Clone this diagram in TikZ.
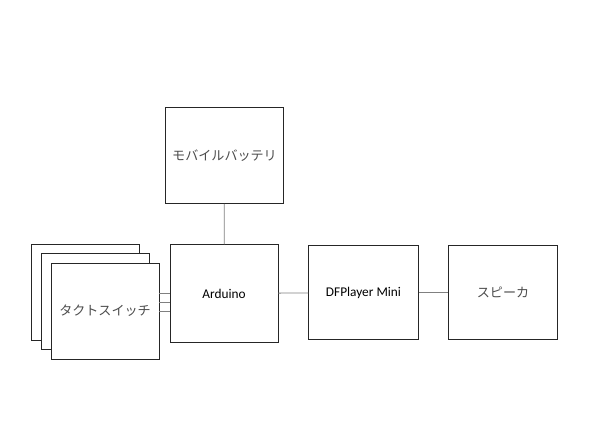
\documentclass[tikz,border=0pt]{standalone}
\usepackage{fontspec}
\setmainfont{Carlito}
\newfontfamily\jpfont{Noto Sans CJK JP}
\tikzset{
  blk/.style={draw=black!85,fill=white,line width=0.7pt,font=\fontsize{10}{12}\selectfont},
  jp/.style={blk,text=black!70,font=\jpfont\fontsize{9.8}{12}\selectfont},
  wire/.style={draw=black!50,line width=0.6pt}
}
\begin{document}
\begin{tikzpicture}[x=0.75pt,y=-0.75pt]
                \useasboundingbox (0,0) rectangle (596,447);
                % power
                \node[jp,minimum width=89pt,minimum height=72pt] (bat) at (224.5,155.5) {モバイルバッテリ};
                % main chain
                \node[blk,minimum width=81pt,minimum height=73pt] (ard) at (224,293.5) {Arduino};
                \node[blk,minimum width=82pt,minimum height=71pt] (dfp) at (363.5,292.5) {DFPlayer Mini};
                \node[jp,minimum width=82pt,minimum height=71pt] (spk) at (503,292.5) {スピーカ};
                % switches
                \node[blk,minimum width=81pt,minimum height=72pt] (sw1) at (85,292) {};
                \node[blk,minimum width=81pt,minimum height=72pt] (sw2) at (95,301.5) {};
                \node[jp,minimum width=81pt,minimum height=72pt] (sw3) at (105,311) {タクトスイッチ};
                \draw[wire] (bat) -- (ard);
                \draw[wire] (ard) -- (dfp);
                \draw[wire] (dfp) -- (spk);
                \foreach \d in {0,9,18}
                  \draw[wire] ([yshift=\d*0.75pt]sw3.east) -- ([yshift=\d*0.75pt]sw3.east -| ard.west);
            \end{tikzpicture}
\end{document}
